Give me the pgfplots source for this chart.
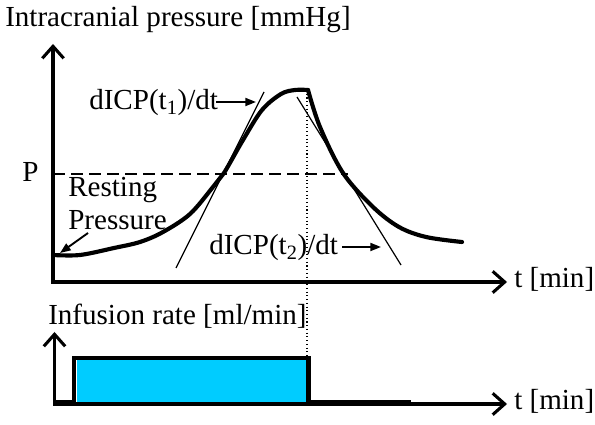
\documentclass[border=0pt]{standalone}
\usepackage{pgfplots}
\pgfplotsset{compat=1.18}
\usepackage{fontspec}
\setmainfont{Liberation Serif}
\usetikzlibrary{arrows.meta}
\definecolor{infcyan}{HTML}{00CCFF}
\tikzset{lbl/.style={font=\fontsize{21.8}{24}\selectfont, inner sep=0pt, anchor=base west}}
\begin{document}
\begin{tikzpicture}
\begin{axis}[
  scale only axis, width=446.25pt, height=318pt,
  xmin=0, xmax=595, ymin=0, ymax=424,
  axis lines=none, clip=false,
]
\coordinate (bl) at (axis cs:0,0);
\coordinate (tr) at (axis cs:595,424);
% ---------- top panel: intracranial pressure ----------
% dotted vertical marker (end of infusion)
\addplot[line width=0.8pt, dotted] coordinates {(307,334) (307,66)};
% axes
\addplot[line width=2.3pt, {Straight Barb[length=9pt,width=16pt]}-{Straight Barb[length=9pt,width=16pt]}]
  coordinates {(53,380) (53,142) (507,142)};
% threshold P
\addplot[line width=2.1pt, dash pattern=on 9pt off 4.5pt] coordinates {(53,250) (348,250)};
% tangents
\addplot[line width=0.9pt] coordinates {(176,156) (264,332)};
\addplot[line width=0.9pt] coordinates {(297,327) (401,159)};
% ICP curve: rise
\addplot[line width=3.1pt, smooth, tension=0.55, line cap=round] coordinates {
  (53,169) (80,169) (114,176) (140,182) (163,192) (190,210) (213,237)
  (224,251) (243,284) (262,314) (281,330) (295,334) (308,334)};
% ICP curve: decay
\addplot[line width=3.1pt, smooth, tension=0.55, line cap=round] coordinates {
  (308,334) (320,297) (343,251) (373,217) (399,197) (426,187) (462,182)};
% annotation arrows
\addplot[line width=1.4pt, -{Triangle[length=8pt,width=6pt]}] coordinates {(88,191) (60,171)};
\addplot[line width=1.4pt, -{Triangle[length=8pt,width=6pt]}] coordinates {(216,322) (256,322)};
\addplot[line width=1.4pt, -{Triangle[length=8pt,width=6pt]}] coordinates {(342,177) (381,177)};
% texts
\node[lbl] at (axis cs:5,397) {Intracranial pressure [mmHg]};
\node[lbl] at (axis cs:22,242) {P};
\node[lbl] at (axis cs:68,227) {Resting};
\node[lbl] at (axis cs:68,194) {Pressure};
\node[lbl] at (axis cs:89,314) {dICP(t\textsubscript{1})/dt};
\node[lbl] at (axis cs:209,169) {dICP(t\textsubscript{2})/dt};
\node[lbl] at (axis cs:514,136) {t [min]};
% ---------- bottom panel: infusion rate ----------
\addplot[fill=infcyan, draw=none] coordinates {(77,22) (77,64) (306,64) (306,22)} -- cycle;
\addplot[line width=2.3pt, {Straight Barb[length=9pt,width=16pt]}-{Straight Barb[length=9pt,width=16pt]}]
  coordinates {(54.5,92) (54.5,20) (507,20)};
\addplot[line width=3.6pt, line join=miter] coordinates {(54.5,21.5) (74,21.5) (74,66) (308.5,66) (308.5,21.5) (411,21.5)};
\node[lbl] at (axis cs:48,99) {Infusion rate [ml/min]};
\node[lbl] at (axis cs:514,14) {t [min]};
\end{axis}
\pgfresetboundingbox
\path (bl) rectangle (tr);
\end{tikzpicture}
\end{document}
